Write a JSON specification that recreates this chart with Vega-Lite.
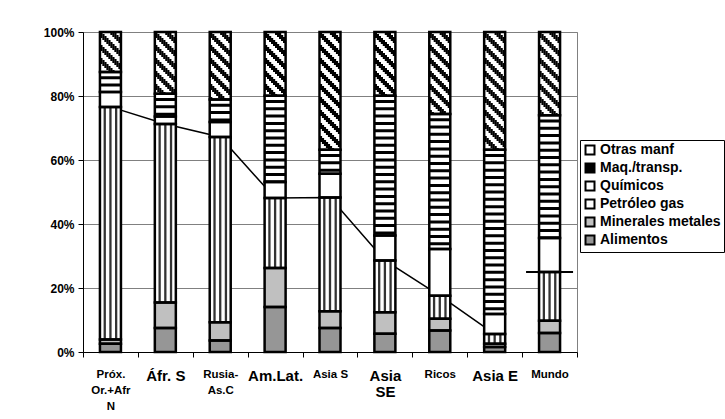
{
  "$schema": "https://vega.github.io/schema/vega-lite/v6.json",
  "width": 494,
  "height": 320,
  "autosize": {"type": "none"},
  "padding": {"left": 83, "top": 32, "right": 148, "bottom": 67},
  "background": "#ffffff",
  "config": {
    "font": "Liberation Sans",
    "view": {"stroke": "#808080", "strokeWidth": 1},
    "axis": {
      "labelFont": "Liberation Sans",
      "labelFontWeight": "bold",
      "labelColor": "#000000",
      "domainColor": "#000000",
      "tickColor": "#000000",
      "title": null
    }
  },
  "data": {
    "values": [
      {"region": "Próx. Or.+Afr N", "cat": "Alimentos", "v": 2.6},
      {"region": "Próx. Or.+Afr N", "cat": "Minerales metales", "v": 1.3},
      {"region": "Próx. Or.+Afr N", "cat": "Petróleo gas", "v": 72.7},
      {"region": "Próx. Or.+Afr N", "cat": "Químicos", "v": 4.65},
      {"region": "Próx. Or.+Afr N", "cat": "Maq./transp.", "v": 6.25},
      {"region": "Próx. Or.+Afr N", "cat": "Otras manf", "v": 12.5},
      {"region": "Áfr. S", "cat": "Alimentos", "v": 7.5},
      {"region": "Áfr. S", "cat": "Minerales metales", "v": 8.0},
      {"region": "Áfr. S", "cat": "Petróleo gas", "v": 55.75},
      {"region": "Áfr. S", "cat": "Químicos", "v": 2.35},
      {"region": "Áfr. S", "cat": "Maq./transp.", "v": 7.1},
      {"region": "Áfr. S", "cat": "Otras manf", "v": 19.3},
      {"region": "Rusia-As.C", "cat": "Alimentos", "v": 3.6},
      {"region": "Rusia-As.C", "cat": "Minerales metales", "v": 5.7},
      {"region": "Rusia-As.C", "cat": "Petróleo gas", "v": 57.9},
      {"region": "Rusia-As.C", "cat": "Químicos", "v": 4.7},
      {"region": "Rusia-As.C", "cat": "Maq./transp.", "v": 7.0},
      {"region": "Rusia-As.C", "cat": "Otras manf", "v": 21.1},
      {"region": "Am.Lat.", "cat": "Alimentos", "v": 14.1},
      {"region": "Am.Lat.", "cat": "Minerales metales", "v": 12.15},
      {"region": "Am.Lat.", "cat": "Petróleo gas", "v": 21.85},
      {"region": "Am.Lat.", "cat": "Químicos", "v": 5.0},
      {"region": "Am.Lat.", "cat": "Maq./transp.", "v": 27.0},
      {"region": "Am.Lat.", "cat": "Otras manf", "v": 19.9},
      {"region": "Asia S", "cat": "Alimentos", "v": 7.5},
      {"region": "Asia S", "cat": "Minerales metales", "v": 5.2},
      {"region": "Asia S", "cat": "Petróleo gas", "v": 35.6},
      {"region": "Asia S", "cat": "Químicos", "v": 7.4},
      {"region": "Asia S", "cat": "Maq./transp.", "v": 7.5},
      {"region": "Asia S", "cat": "Otras manf", "v": 36.8},
      {"region": "Asia SE", "cat": "Alimentos", "v": 5.7},
      {"region": "Asia SE", "cat": "Minerales metales", "v": 6.7},
      {"region": "Asia SE", "cat": "Petróleo gas", "v": 16.2},
      {"region": "Asia SE", "cat": "Químicos", "v": 7.8},
      {"region": "Asia SE", "cat": "Maq./transp.", "v": 43.7},
      {"region": "Asia SE", "cat": "Otras manf", "v": 19.9},
      {"region": "Ricos", "cat": "Alimentos", "v": 6.7},
      {"region": "Ricos", "cat": "Minerales metales", "v": 3.7},
      {"region": "Ricos", "cat": "Petróleo gas", "v": 7.2},
      {"region": "Ricos", "cat": "Químicos", "v": 14.6},
      {"region": "Ricos", "cat": "Maq./transp.", "v": 42.2},
      {"region": "Ricos", "cat": "Otras manf", "v": 25.6},
      {"region": "Asia E", "cat": "Alimentos", "v": 1.6},
      {"region": "Asia E", "cat": "Minerales metales", "v": 1.0},
      {"region": "Asia E", "cat": "Petróleo gas", "v": 3.0},
      {"region": "Asia E", "cat": "Químicos", "v": 6.3},
      {"region": "Asia E", "cat": "Maq./transp.", "v": 51.3},
      {"region": "Asia E", "cat": "Otras manf", "v": 36.8},
      {"region": "Mundo", "cat": "Alimentos", "v": 5.9},
      {"region": "Mundo", "cat": "Minerales metales", "v": 3.9},
      {"region": "Mundo", "cat": "Petróleo gas", "v": 15.2},
      {"region": "Mundo", "cat": "Químicos", "v": 10.6},
      {"region": "Mundo", "cat": "Maq./transp.", "v": 38.4},
      {"region": "Mundo", "cat": "Otras manf", "v": 26.0}
    ]
  },
  "transform": [
    {"calculate": "indexof(['Alimentos', 'Minerales metales', 'Petróleo gas', 'Químicos', 'Maq./transp.', 'Otras manf'], datum.cat)", "as": "k"},
    {"stack": "v", "groupby": ["region"], "sort": [{"field": "k", "order": "ascending"}], "as": ["y0", "y1"]}
  ],
  "encoding": {
    "x": {
      "field": "region",
      "type": "nominal",
      "scale": {
        "domain": ["Próx. Or.+Afr N", "Áfr. S", "Rusia-As.C", "Am.Lat.", "Asia S", "Asia SE", "Ricos", "Asia E", "Mundo"],
        "paddingInner": 0,
        "paddingOuter": 0
      },
      "axis": {
        "title": null,
        "labelAngle": 0,
        "tickBand": "extent",
        "tickSize": 5,
        "grid": false,
        "labelOverlap": false,
        "labelBound": false,
        "labelFlush": false,
        "labelLineHeight": 16,
        "labelPadding": 11,
        "labelFontSize": {"condition": {"test": "indexof(['Áfr. S', 'Am.Lat.', 'Asia SE', 'Asia E'], datum.value) >= 0", "value": 15}, "value": 11.5},
        "labelExpr": "datum.value == 'Próx. Or.+Afr N' ? ['Próx.', 'Or.+Afr', 'N'] : datum.value == 'Rusia-As.C' ? ['Rusia-', 'As.C'] : datum.value == 'Asia SE' ? ['Asia', 'SE'] : datum.label"
      }
    },
    "y": {"field": "y0", "type": "quantitative", "scale": {"domain": [0, 100]}, "axis": {"title": null, "values": [0, 20, 40, 60, 80, 100], "labelExpr": "datum.value + '%'", "grid": true, "gridColor": "#808080", "gridWidth": 1, "tickSize": 5, "labelPadding": 4, "labelFontSize": 12}}
  },
  "layer": [
    {
      "transform": [{"filter": "datum.cat == 'Petróleo gas' && datum.region != 'Mundo'"}],
      "mark": {"type": "line", "color": "#000000", "strokeWidth": 1.5},
      "encoding": {"y": {"field": "y1", "type": "quantitative"}}
    },
    {
      "mark": {"type": "bar", "size": 21},
      "encoding": {
        "y2": {"field": "y1"},
        "fill": {
          "field": "cat",
          "type": "nominal",
          "scale": {
            "domain": ["Otras manf", "Maq./transp.", "Químicos", "Petróleo gas", "Minerales metales", "Alimentos"],
            "range": ["#ffffff", "#000000", "#ffffff", "#ffffff", "#c0c0c0", "#969696"]
          },
          "legend": {
            "title": null,
            "orient": "none",
            "legendX": 497,
            "legendY": 108,
            "labelFont": "Liberation Sans",
            "labelFontWeight": "bold",
            "labelFontSize": 14,
            "labelColor": "#000000",
            "labelOffset": 3,
            "symbolType": "square",
            "symbolSize": 81,
            "symbolStrokeColor": "#000000",
            "symbolStrokeWidth": 2,
            "strokeColor": "#000000",
            "fillColor": "#ffffff",
            "padding": 3,
            "rowPadding": 0
          }
        }
      }
    },
    {
      "transform": [{"filter": "datum.cat == 'Petróleo gas'"}],
      "mark": {"type": "rule", "stroke": "#333333", "strokeWidth": 2.3, "xOffset": -5.7},
      "encoding": {"y": {"field": "y1", "type": "quantitative"}, "y2": {"field": "y0"}}
    },
    {
      "transform": [{"filter": "datum.cat == 'Petróleo gas'"}],
      "mark": {"type": "rule", "stroke": "#333333", "strokeWidth": 2.3, "xOffset": 0},
      "encoding": {"y": {"field": "y1", "type": "quantitative"}, "y2": {"field": "y0"}}
    },
    {
      "transform": [{"filter": "datum.cat == 'Petróleo gas'"}],
      "mark": {"type": "rule", "stroke": "#333333", "strokeWidth": 2.3, "xOffset": 5.7},
      "encoding": {"y": {"field": "y1", "type": "quantitative"}, "y2": {"field": "y0"}}
    },
    {
      "transform": [{"filter": "datum.cat == 'Otras manf'"}],
      "mark": {"type": "rule", "stroke": "#000000", "strokeWidth": 2.2, "strokeCap": "butt", "strokeDash": [6, 7], "strokeDashOffset": 0, "xOffset": -9},
      "encoding": {"y": {"field": "y1", "type": "quantitative"}, "y2": {"field": "y0"}}
    },
    {
      "transform": [{"filter": "datum.cat == 'Otras manf'"}],
      "mark": {"type": "rule", "stroke": "#000000", "strokeWidth": 2.2, "strokeCap": "butt", "strokeDash": [6, 7], "strokeDashOffset": 11, "xOffset": -7},
      "encoding": {"y": {"field": "y1", "type": "quantitative"}, "y2": {"field": "y0"}}
    },
    {
      "transform": [{"filter": "datum.cat == 'Otras manf'"}],
      "mark": {"type": "rule", "stroke": "#000000", "strokeWidth": 2.2, "strokeCap": "butt", "strokeDash": [6, 7], "strokeDashOffset": 9, "xOffset": -5},
      "encoding": {"y": {"field": "y1", "type": "quantitative"}, "y2": {"field": "y0"}}
    },
    {
      "transform": [{"filter": "datum.cat == 'Otras manf'"}],
      "mark": {"type": "rule", "stroke": "#000000", "strokeWidth": 2.2, "strokeCap": "butt", "strokeDash": [6, 7], "strokeDashOffset": 7, "xOffset": -3},
      "encoding": {"y": {"field": "y1", "type": "quantitative"}, "y2": {"field": "y0"}}
    },
    {
      "transform": [{"filter": "datum.cat == 'Otras manf'"}],
      "mark": {"type": "rule", "stroke": "#000000", "strokeWidth": 2.2, "strokeCap": "butt", "strokeDash": [6, 7], "strokeDashOffset": 5, "xOffset": -1},
      "encoding": {"y": {"field": "y1", "type": "quantitative"}, "y2": {"field": "y0"}}
    },
    {
      "transform": [{"filter": "datum.cat == 'Otras manf'"}],
      "mark": {"type": "rule", "stroke": "#000000", "strokeWidth": 2.2, "strokeCap": "butt", "strokeDash": [6, 7], "strokeDashOffset": 3, "xOffset": 1},
      "encoding": {"y": {"field": "y1", "type": "quantitative"}, "y2": {"field": "y0"}}
    },
    {
      "transform": [{"filter": "datum.cat == 'Otras manf'"}],
      "mark": {"type": "rule", "stroke": "#000000", "strokeWidth": 2.2, "strokeCap": "butt", "strokeDash": [6, 7], "strokeDashOffset": 1, "xOffset": 3},
      "encoding": {"y": {"field": "y1", "type": "quantitative"}, "y2": {"field": "y0"}}
    },
    {
      "transform": [{"filter": "datum.cat == 'Otras manf'"}],
      "mark": {"type": "rule", "stroke": "#000000", "strokeWidth": 2.2, "strokeCap": "butt", "strokeDash": [6, 7], "strokeDashOffset": 12, "xOffset": 5},
      "encoding": {"y": {"field": "y1", "type": "quantitative"}, "y2": {"field": "y0"}}
    },
    {
      "transform": [{"filter": "datum.cat == 'Otras manf'"}],
      "mark": {"type": "rule", "stroke": "#000000", "strokeWidth": 2.2, "strokeCap": "butt", "strokeDash": [6, 7], "strokeDashOffset": 10, "xOffset": 7},
      "encoding": {"y": {"field": "y1", "type": "quantitative"}, "y2": {"field": "y0"}}
    },
    {
      "transform": [{"filter": "datum.cat == 'Otras manf'"}],
      "mark": {"type": "rule", "stroke": "#000000", "strokeWidth": 2.2, "strokeCap": "butt", "strokeDash": [6, 7], "strokeDashOffset": 8, "xOffset": 9},
      "encoding": {"y": {"field": "y1", "type": "quantitative"}, "y2": {"field": "y0"}}
    },
    {
      "transform": [{"filter": "datum.cat == 'Maq./transp.'"}],
      "mark": {"type": "rule", "stroke": "#ffffff", "strokeWidth": 20, "strokeDash": [4.3, 3], "strokeCap": "butt"},
      "encoding": {"y": {"field": "y1", "type": "quantitative"}, "y2": {"field": "y0"}}
    },
    {
      "mark": {"type": "bar", "size": 21, "fillOpacity": 0, "stroke": "#000000", "strokeWidth": 2.5},
      "encoding": {"y2": {"field": "y1"}}
    },
    {
      "transform": [{"filter": "datum.cat == 'Petróleo gas' && datum.region == 'Mundo'"}],
      "mark": {"type": "tick", "orient": "horizontal", "size": 47, "thickness": 2, "color": "#000000", "opacity": 1},
      "encoding": {"y": {"field": "y1", "type": "quantitative"}}
    }
  ]
}
